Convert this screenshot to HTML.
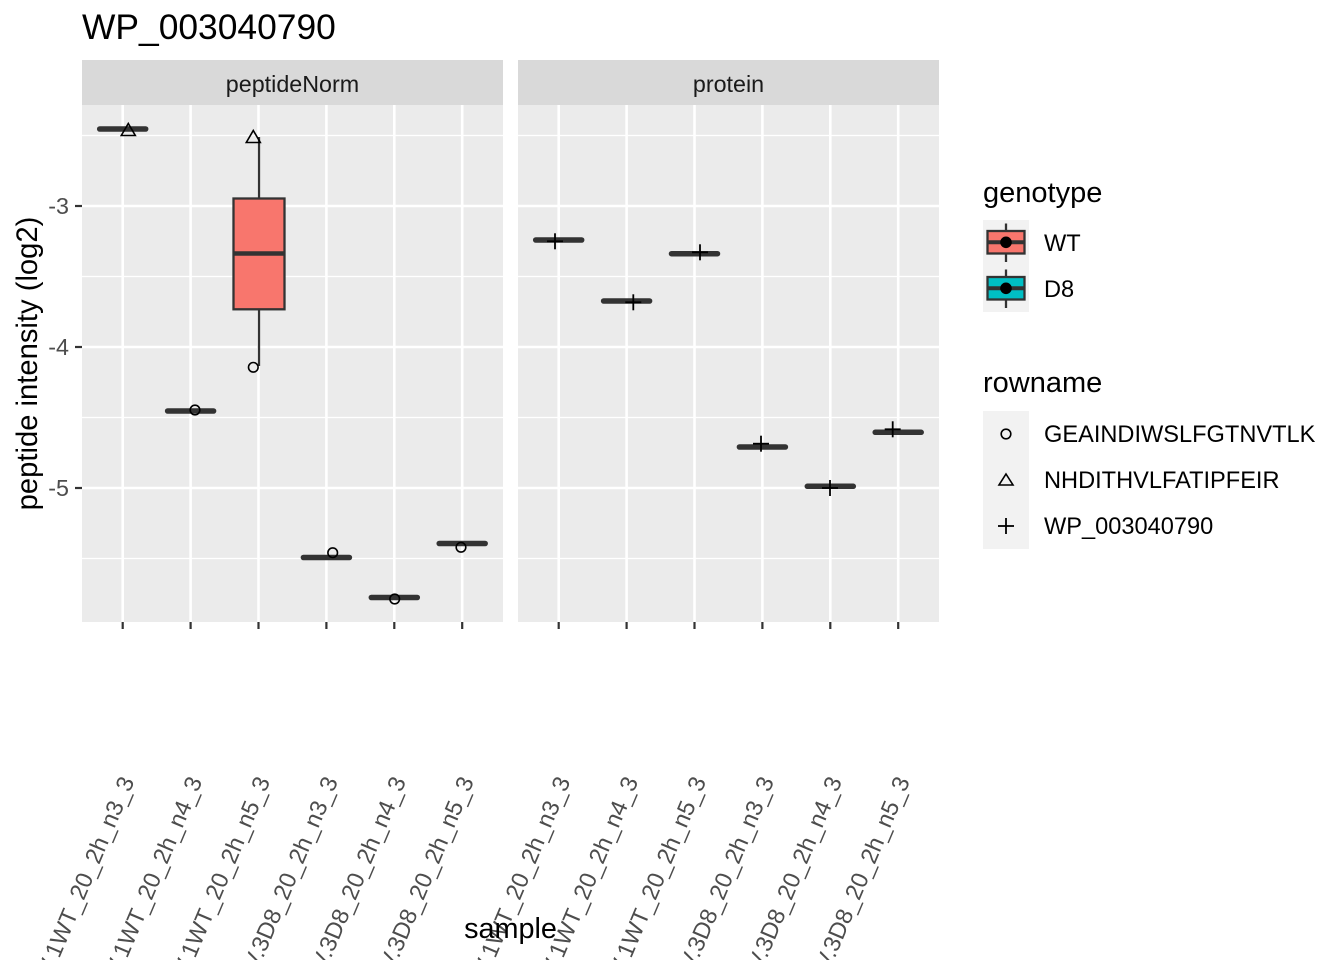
<!DOCTYPE html>
<html>
<head>
<meta charset="utf-8">
<style>
  html, body { margin: 0; padding: 0; background: #ffffff; }
  svg { display: block; }
  text { font-family: "Liberation Sans", Arial, sans-serif; }
</style>
</head>
<body>
<svg width="1344" height="960" viewBox="0 0 1344 960" xmlns="http://www.w3.org/2000/svg">
  <rect x="0" y="0" width="1344" height="960" fill="#ffffff"/>

  <!-- Title -->
  <text x="82" y="39" font-size="35.4" fill="#000000">WP_003040790</text>

  <!-- ============ LEFT PANEL ============ -->
  <rect x="82" y="60" width="421" height="45" fill="#D9D9D9"/>
  <text x="292.5" y="92" font-size="23.3" fill="#1A1A1A" text-anchor="middle">peptideNorm</text>
  <rect x="82" y="105" width="421" height="517" fill="#EBEBEB"/>
  <!-- minor grid -->
  <g stroke="#ffffff" stroke-width="1.3">
    <line x1="82" y1="135.5" x2="503" y2="135.5"/>
    <line x1="82" y1="276.5" x2="503" y2="276.5"/>
    <line x1="82" y1="417.5" x2="503" y2="417.5"/>
    <line x1="82" y1="558.5" x2="503" y2="558.5"/>
  </g>
  <!-- major grid -->
  <g stroke="#ffffff" stroke-width="2.6">
    <line x1="82" y1="206" x2="503" y2="206"/>
    <line x1="82" y1="347" x2="503" y2="347"/>
    <line x1="82" y1="488" x2="503" y2="488"/>
    <line x1="122.7" y1="105" x2="122.7" y2="622"/>
    <line x1="190.6" y1="105" x2="190.6" y2="622"/>
    <line x1="258.5" y1="105" x2="258.5" y2="622"/>
    <line x1="326.4" y1="105" x2="326.4" y2="622"/>
    <line x1="394.3" y1="105" x2="394.3" y2="622"/>
    <line x1="462.2" y1="105" x2="462.2" y2="622"/>
  </g>

  <!-- crossbars (left) -->
  <g stroke="#333333" stroke-width="5.5" stroke-linecap="round">
    <line x1="99.7" y1="129" x2="145.7" y2="129"/>
    <line x1="167.6" y1="411" x2="213.6" y2="411"/>
    <line x1="303.4" y1="557.5" x2="349.4" y2="557.5"/>
    <line x1="371.3" y1="597.5" x2="417.3" y2="597.5"/>
    <line x1="439.2" y1="543.5" x2="485.2" y2="543.5"/>
  </g>
  <!-- box 3 -->
  <g stroke="#333333" stroke-width="2.3">
    <line x1="259" y1="137" x2="259" y2="198.5"/>
    <line x1="259" y1="309.3" x2="259" y2="366"/>
    <rect x="233.5" y="198.5" width="51" height="110.8" fill="#F8766D"/>
  </g>
  <line x1="233.5" y1="253.5" x2="284.5" y2="253.5" stroke="#333333" stroke-width="4.5"/>

  <!-- points (left) -->
  <g fill="none" stroke="#000000" stroke-width="1.6">
    <polygon points="128.3,123.5 135.3,135.5 121.3,135.5"/>
    <polygon points="253.3,130.5 260.3,142.5 246.3,142.5"/>
    <circle cx="195" cy="410" r="4.8"/>
    <circle cx="253.3" cy="367.3" r="4.8"/>
    <circle cx="332.7" cy="552.7" r="4.8"/>
    <circle cx="394.7" cy="599" r="4.8"/>
    <circle cx="461" cy="547.3" r="4.8"/>
  </g>

  <!-- ============ RIGHT PANEL ============ -->
  <rect x="518" y="60" width="421" height="45" fill="#D9D9D9"/>
  <text x="728.5" y="92" font-size="23.3" fill="#1A1A1A" text-anchor="middle">protein</text>
  <rect x="518" y="105" width="421" height="517" fill="#EBEBEB"/>
  <g stroke="#ffffff" stroke-width="1.3">
    <line x1="518" y1="135.5" x2="939" y2="135.5"/>
    <line x1="518" y1="276.5" x2="939" y2="276.5"/>
    <line x1="518" y1="417.5" x2="939" y2="417.5"/>
    <line x1="518" y1="558.5" x2="939" y2="558.5"/>
  </g>
  <g stroke="#ffffff" stroke-width="2.6">
    <line x1="518" y1="206" x2="939" y2="206"/>
    <line x1="518" y1="347" x2="939" y2="347"/>
    <line x1="518" y1="488" x2="939" y2="488"/>
    <line x1="558.7" y1="105" x2="558.7" y2="622"/>
    <line x1="626.6" y1="105" x2="626.6" y2="622"/>
    <line x1="694.5" y1="105" x2="694.5" y2="622"/>
    <line x1="762.4" y1="105" x2="762.4" y2="622"/>
    <line x1="830.3" y1="105" x2="830.3" y2="622"/>
    <line x1="898.2" y1="105" x2="898.2" y2="622"/>
  </g>
  <g stroke="#333333" stroke-width="5.5" stroke-linecap="round">
    <line x1="535.7" y1="240" x2="581.7" y2="240"/>
    <line x1="603.6" y1="301" x2="649.6" y2="301"/>
    <line x1="671.5" y1="253.7" x2="717.5" y2="253.7"/>
    <line x1="739.4" y1="447" x2="785.4" y2="447"/>
    <line x1="807.3" y1="486.3" x2="853.3" y2="486.3"/>
    <line x1="875.2" y1="432.3" x2="921.2" y2="432.3"/>
  </g>
  <g stroke="#000000" stroke-width="1.8">
    <line x1="547" y1="241.3" x2="563" y2="241.3"/><line x1="555" y1="233.3" x2="555" y2="249.3"/>
    <line x1="625.3" y1="302.3" x2="641.3" y2="302.3"/><line x1="633.3" y1="294.3" x2="633.3" y2="310.3"/>
    <line x1="692" y1="252.3" x2="708" y2="252.3"/><line x1="700" y1="244.3" x2="700" y2="260.3"/>
    <line x1="753" y1="443.7" x2="769" y2="443.7"/><line x1="761" y1="435.7" x2="761" y2="451.7"/>
    <line x1="822" y1="488" x2="838" y2="488"/><line x1="830" y1="480" x2="830" y2="496"/>
    <line x1="884.7" y1="429.3" x2="900.7" y2="429.3"/><line x1="892.7" y1="421.3" x2="892.7" y2="437.3"/>
  </g>

  <!-- ============ AXES ============ -->
  <g stroke="#333333" stroke-width="2.2">
    <line x1="75" y1="206" x2="82" y2="206"/>
    <line x1="75" y1="347" x2="82" y2="347"/>
    <line x1="75" y1="488" x2="82" y2="488"/>
    <line x1="122.7" y1="622" x2="122.7" y2="629"/>
    <line x1="190.6" y1="622" x2="190.6" y2="629"/>
    <line x1="258.5" y1="622" x2="258.5" y2="629"/>
    <line x1="326.4" y1="622" x2="326.4" y2="629"/>
    <line x1="394.3" y1="622" x2="394.3" y2="629"/>
    <line x1="462.2" y1="622" x2="462.2" y2="629"/>
    <line x1="558.7" y1="622" x2="558.7" y2="629"/>
    <line x1="626.6" y1="622" x2="626.6" y2="629"/>
    <line x1="694.5" y1="622" x2="694.5" y2="629"/>
    <line x1="762.4" y1="622" x2="762.4" y2="629"/>
    <line x1="830.3" y1="622" x2="830.3" y2="629"/>
    <line x1="898.2" y1="622" x2="898.2" y2="629"/>
  </g>
  <g font-size="23.3" fill="#4D4D4D" text-anchor="end">
    <text x="69" y="214">-3</text>
    <text x="69" y="355">-4</text>
    <text x="69" y="496">-5</text>
  </g>

  <!-- x tick labels, rotated -->
  <g font-size="23.5" fill="#4D4D4D" text-anchor="end">
    <text transform="translate(134.7,781) rotate(-67)">SV.1WT_20_2h_n3_3</text>
    <text transform="translate(202.6,781) rotate(-67)">SV.1WT_20_2h_n4_3</text>
    <text transform="translate(270.5,781) rotate(-67)">SV.1WT_20_2h_n5_3</text>
    <text transform="translate(338.4,781) rotate(-67)">SV.3D8_20_2h_n3_3</text>
    <text transform="translate(406.3,781) rotate(-67)">SV.3D8_20_2h_n4_3</text>
    <text transform="translate(474.2,781) rotate(-67)">SV.3D8_20_2h_n5_3</text>
    <text transform="translate(570.7,781) rotate(-67)">SV.1WT_20_2h_n3_3</text>
    <text transform="translate(638.6,781) rotate(-67)">SV.1WT_20_2h_n4_3</text>
    <text transform="translate(706.5,781) rotate(-67)">SV.1WT_20_2h_n5_3</text>
    <text transform="translate(774.4,781) rotate(-67)">SV.3D8_20_2h_n3_3</text>
    <text transform="translate(842.3,781) rotate(-67)">SV.3D8_20_2h_n4_3</text>
    <text transform="translate(910.2,781) rotate(-67)">SV.3D8_20_2h_n5_3</text>
  </g>

  <!-- axis titles -->
  <text x="510.5" y="938" font-size="28.8" fill="#000000" text-anchor="middle">sample</text>
  <text transform="translate(37,363.5) rotate(-90)" font-size="29.2" fill="#000000" text-anchor="middle">peptide intensity (log2)</text>

  <!-- ============ LEGEND ============ -->
  <text x="983" y="202" font-size="29" fill="#000000">genotype</text>
  <rect x="983" y="220" width="46" height="92" fill="#F2F2F2"/>
  <!-- WT key -->
  <g stroke="#333333" stroke-width="2.3">
    <line x1="1006" y1="223.5" x2="1006" y2="262"/>
    <rect x="987.5" y="231" width="37" height="22.5" fill="#F8766D"/>
    <line x1="987.5" y1="242.3" x2="1024.5" y2="242.3" stroke-width="4"/>
  </g>
  <circle cx="1006" cy="242.3" r="5.8" fill="#000000"/>
  <!-- D8 key -->
  <g stroke="#333333" stroke-width="2.3">
    <line x1="1006" y1="269.5" x2="1006" y2="308"/>
    <rect x="987.5" y="277" width="37" height="22.5" fill="#00BFC4"/>
    <line x1="987.5" y1="288.3" x2="1024.5" y2="288.3" stroke-width="4"/>
  </g>
  <circle cx="1006" cy="288.3" r="5.8" fill="#000000"/>
  <text x="1044" y="251" font-size="23.6" fill="#000000">WT</text>
  <text x="1044" y="297" font-size="23.6" fill="#000000">D8</text>

  <text x="983" y="392" font-size="29" fill="#000000">rowname</text>
  <rect x="983" y="411" width="46" height="138" fill="#F2F2F2"/>
  <g fill="none" stroke="#000000" stroke-width="1.6">
    <circle cx="1006" cy="434" r="4.8"/>
    <polygon points="1006,474 1013,485 999,485"/>
  </g>
  <g stroke="#000000" stroke-width="1.8">
    <line x1="998" y1="526" x2="1014" y2="526"/>
    <line x1="1006" y1="518" x2="1006" y2="534"/>
  </g>
  <g font-size="23.6" fill="#000000">
    <text x="1044" y="442">GEAINDIWSLFGTNVTLK</text>
    <text x="1044" y="488">NHDITHVLFATIPFEIR</text>
    <text x="1044" y="534">WP_003040790</text>
  </g>
</svg>
</body>
</html>
